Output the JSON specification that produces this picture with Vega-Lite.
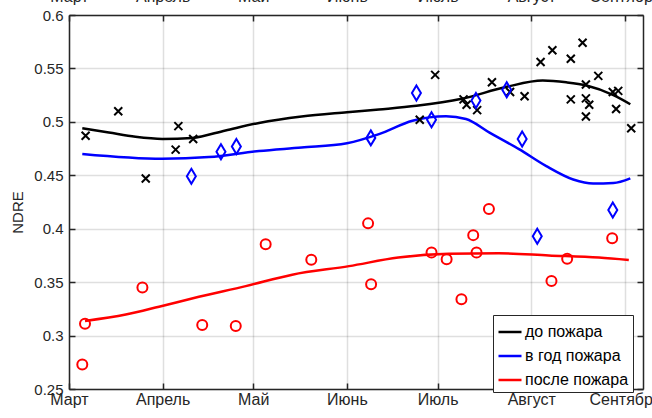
{
  "$schema": "https://vega.github.io/schema/vega-lite/v6.json",
  "autosize": {"type": "none"},
  "padding": {"left": 69, "top": 15, "right": 9, "bottom": 29},
  "width": 574,
  "height": 374,
  "background": "#ffffff",
  "view": {"stroke": null},
  "config": {
    "font": "Liberation Sans",
    "axis": {
      "labelFont": "Liberation Sans",
      "labelFontSize": 16,
      "labelColor": "#262626",
      "titleFont": "Liberation Sans",
      "titleFontSize": 15,
      "titleFontWeight": "normal",
      "titleColor": "#262626",
      "domainColor": "#262626",
      "domainWidth": 1.5,
      "tickColor": "#262626",
      "tickWidth": 1.5,
      "tickSize": -6,
      "gridColor": "#262626",
      "gridOpacity": 0.15,
      "gridWidth": 1.5,
      "labelOverlap": false,
      "labelFlush": false,
      "labelBound": false
    }
  },
  "datasets": {
    "obs": [
      {"day": 5.5, "v": 0.487, "grp": "до пожара"},
      {"day": 16.3, "v": 0.510, "grp": "до пожара"},
      {"day": 25.4, "v": 0.447, "grp": "до пожара"},
      {"day": 36.2, "v": 0.496, "grp": "до пожара"},
      {"day": 35.3, "v": 0.474, "grp": "до пожара"},
      {"day": 41.1, "v": 0.484, "grp": "до пожара"},
      {"day": 116.1, "v": 0.502, "grp": "до пожара"},
      {"day": 121.2, "v": 0.544, "grp": "до пожара"},
      {"day": 130.6, "v": 0.521, "grp": "до пожара"},
      {"day": 131.6, "v": 0.516, "grp": "до пожара"},
      {"day": 135.1, "v": 0.511, "grp": "до пожара"},
      {"day": 140.0, "v": 0.537, "grp": "до пожара"},
      {"day": 146.0, "v": 0.528, "grp": "до пожара"},
      {"day": 150.8, "v": 0.524, "grp": "до пожара"},
      {"day": 156.1, "v": 0.556, "grp": "до пожара"},
      {"day": 160.0, "v": 0.567, "grp": "до пожара"},
      {"day": 166.1, "v": 0.559, "grp": "до пожара"},
      {"day": 166.1, "v": 0.521, "grp": "до пожара"},
      {"day": 170.0, "v": 0.574, "grp": "до пожара"},
      {"day": 171.1, "v": 0.535, "grp": "до пожара"},
      {"day": 171.1, "v": 0.522, "grp": "до пожара"},
      {"day": 172.2, "v": 0.516, "grp": "до пожара"},
      {"day": 171.1, "v": 0.505, "grp": "до пожара"},
      {"day": 175.2, "v": 0.543, "grp": "до пожара"},
      {"day": 180.0, "v": 0.528, "grp": "до пожара"},
      {"day": 181.8, "v": 0.529, "grp": "до пожара"},
      {"day": 181.1, "v": 0.512, "grp": "до пожара"},
      {"day": 186.1, "v": 0.494, "grp": "до пожара"},
      {"day": 40.5, "v": 0.449, "grp": "в год пожара"},
      {"day": 50.3, "v": 0.472, "grp": "в год пожара"},
      {"day": 55.4, "v": 0.477, "grp": "в год пожара"},
      {"day": 99.9, "v": 0.485, "grp": "в год пожара"},
      {"day": 115.0, "v": 0.527, "grp": "в год пожара"},
      {"day": 120.0, "v": 0.502, "grp": "в год пожара"},
      {"day": 134.7, "v": 0.520, "grp": "в год пожара"},
      {"day": 144.9, "v": 0.530, "grp": "в год пожара"},
      {"day": 150.0, "v": 0.484, "grp": "в год пожара"},
      {"day": 155.0, "v": 0.393, "grp": "в год пожара"},
      {"day": 180.0, "v": 0.4175, "grp": "в год пожара"},
      {"day": 4.4, "v": 0.273, "grp": "после пожара"},
      {"day": 5.3, "v": 0.311, "grp": "после пожара"},
      {"day": 24.3, "v": 0.345, "grp": "после пожара"},
      {"day": 44.1, "v": 0.310, "grp": "после пожара"},
      {"day": 55.2, "v": 0.309, "grp": "после пожара"},
      {"day": 65.1, "v": 0.3855, "grp": "после пожара"},
      {"day": 80.2, "v": 0.371, "grp": "после пожара"},
      {"day": 99.0, "v": 0.405, "grp": "после пожара"},
      {"day": 100.0, "v": 0.348, "grp": "после пожара"},
      {"day": 120.0, "v": 0.3777, "grp": "после пожара"},
      {"day": 125.0, "v": 0.3714, "grp": "после пожара"},
      {"day": 129.9, "v": 0.334, "grp": "после пожара"},
      {"day": 133.8, "v": 0.394, "grp": "после пожара"},
      {"day": 134.9, "v": 0.3777, "grp": "после пожара"},
      {"day": 139.0, "v": 0.4184, "grp": "после пожара"},
      {"day": 159.7, "v": 0.351, "grp": "после пожара"},
      {"day": 164.9, "v": 0.372, "grp": "после пожара"},
      {"day": 179.8, "v": 0.391, "grp": "после пожара"}
    ],
    "fit": [
      {"day": 4.4, "v": 0.494, "grp": "до пожара"},
      {"day": 13.2, "v": 0.490, "grp": "до пожара"},
      {"day": 22, "v": 0.486, "grp": "до пожара"},
      {"day": 30.9, "v": 0.484, "grp": "до пожара"},
      {"day": 40.8, "v": 0.485, "grp": "до пожара"},
      {"day": 51.8, "v": 0.492, "grp": "до пожара"},
      {"day": 62.9, "v": 0.499, "grp": "до пожара"},
      {"day": 77, "v": 0.505, "grp": "до пожара"},
      {"day": 92, "v": 0.509, "grp": "до пожара"},
      {"day": 102.6, "v": 0.5116, "grp": "до пожара"},
      {"day": 115, "v": 0.515, "grp": "до пожара"},
      {"day": 130, "v": 0.5216, "grp": "до пожара"},
      {"day": 144.6, "v": 0.5326, "grp": "до пожара"},
      {"day": 156.8, "v": 0.5386, "grp": "до пожара"},
      {"day": 164.6, "v": 0.537, "grp": "до пожара"},
      {"day": 171.3, "v": 0.534, "grp": "до пожара"},
      {"day": 180.2, "v": 0.525, "grp": "до пожара"},
      {"day": 185.8, "v": 0.5165, "grp": "до пожара"},
      {"day": 4.4, "v": 0.470, "grp": "в год пожара"},
      {"day": 30.9, "v": 0.4655, "grp": "в год пожара"},
      {"day": 46.3, "v": 0.467, "grp": "в год пожара"},
      {"day": 62.9, "v": 0.4727, "grp": "в год пожара"},
      {"day": 77, "v": 0.476, "grp": "в год пожара"},
      {"day": 92, "v": 0.480, "grp": "в год пожара"},
      {"day": 102.6, "v": 0.4885, "grp": "в год пожара"},
      {"day": 113.7, "v": 0.501, "grp": "в год пожара"},
      {"day": 124.8, "v": 0.5052, "grp": "в год пожара"},
      {"day": 131.4, "v": 0.5027, "grp": "в год пожара"},
      {"day": 139.2, "v": 0.490, "grp": "в год пожара"},
      {"day": 149.1, "v": 0.4742, "grp": "в год пожара"},
      {"day": 158, "v": 0.4585, "grp": "в год пожара"},
      {"day": 166.9, "v": 0.446, "grp": "в год пожара"},
      {"day": 173.5, "v": 0.4422, "grp": "в год пожара"},
      {"day": 180.2, "v": 0.4427, "grp": "в год пожара"},
      {"day": 185.8, "v": 0.4471, "grp": "в год пожара"},
      {"day": 5.3, "v": 0.3137, "grp": "после пожара"},
      {"day": 18.8, "v": 0.3197, "grp": "после пожара"},
      {"day": 29.8, "v": 0.327, "grp": "после пожара"},
      {"day": 43, "v": 0.3363, "grp": "после пожара"},
      {"day": 58.5, "v": 0.3463, "grp": "после пожара"},
      {"day": 73.9, "v": 0.357, "grp": "после пожара"},
      {"day": 92.7, "v": 0.365, "grp": "после пожара"},
      {"day": 109, "v": 0.373, "grp": "после пожара"},
      {"day": 125.7, "v": 0.3765, "grp": "после пожара"},
      {"day": 142.3, "v": 0.377, "grp": "после пожара"},
      {"day": 158.8, "v": 0.375, "grp": "после пожара"},
      {"day": 175.4, "v": 0.373, "grp": "после пожара"},
      {"day": 185.3, "v": 0.3707, "grp": "после пожара"}
    ]
  },
  "resolve": {"axis": {"x": "independent", "y": "independent"}},
  "layer": [
    {
      "data": {"name": "fit"},
      "mark": {"type": "line", "strokeWidth": 2.5, "interpolate": "monotone"},
      "encoding": {
        "x": {
          "field": "day", "type": "quantitative",
          "scale": {"domain": [0, 190], "nice": false, "zero": false},
          "axis": {
            "orient": "bottom", "title": null, "grid": true,
            "values": [0, 31, 61, 92, 122, 153, 184],
            "labelPadding": 8,
            "labelExpr": "datum.value == 0 ? 'Март' : datum.value == 31 ? 'Апрель' : datum.value == 61 ? 'Май' : datum.value == 92 ? 'Июнь' : datum.value == 122 ? 'Июль' : datum.value == 153 ? 'Август' : 'Сентябрь'"
          }
        },
        "y": {
          "field": "v", "type": "quantitative",
          "scale": {"domain": [0.25, 0.6], "nice": false, "zero": false},
          "axis": {
            "orient": "left", "title": "NDRE", "grid": true,
            "values": [0.25, 0.3, 0.35, 0.4, 0.45, 0.5, 0.55, 0.6],
            "format": ".2~f",
            "labelFontSize": 15,
            "labelPadding": 12,
            "titlePadding": 8,
            "titleY": 197
          }
        },
        "color": {
          "field": "grp", "type": "nominal",
          "scale": {"domain": ["до пожара", "в год пожара", "после пожара"], "range": ["#000000", "#0000ff", "#ff0000"]},
          "legend": {
            "title": null,
            "orient": "none",
            "legendX": 424,
            "legendY": 300,
            "symbolType": "stroke",
            "symbolSize": 529,
            "symbolStrokeWidth": 2.5,
            "labelFont": "Liberation Sans",
            "labelFontSize": 16,
            "labelColor": "#000000",
            "labelOffset": 2,
            "padding": 4,
            "rowPadding": 3,
            "strokeColor": "#262626",
            "fillColor": "#ffffff"
          }
        },
        "detail": {"field": "grp"}
      }
    },
    {
      "data": {"name": "fit"},
      "mark": {"type": "line", "opacity": 0},
      "encoding": {
        "x": {
          "field": "day", "type": "quantitative",
          "axis": {
            "orient": "top", "title": null, "grid": false,
            "values": [0, 31, 61, 92, 122, 153, 184],
            "labelPadding": 17,
            "labelExpr": "datum.value == 0 ? 'Март' : datum.value == 31 ? 'Апрель' : datum.value == 61 ? 'Май' : datum.value == 92 ? 'Июнь' : datum.value == 122 ? 'Июль' : datum.value == 153 ? 'Август' : 'Сентябрь'"
          }
        },
        "y": {
          "field": "v", "type": "quantitative",
          "axis": {
            "orient": "right", "title": null, "grid": false, "labels": false,
            "values": [0.25, 0.3, 0.35, 0.4, 0.45, 0.5, 0.55, 0.6]
          }
        },
        "detail": {"field": "grp"}
      }
    },
    {
      "data": {"name": "obs"},
      "transform": [{"filter": "datum.grp == 'до пожара'"}],
      "mark": {"type": "point", "shape": "M-1,-1L1,1M-1,1L1,-1", "filled": false, "color": "#000000", "strokeWidth": 2, "size": 64, "opacity": 1},
      "encoding": {
        "x": {"field": "day", "type": "quantitative", "axis": null},
        "y": {"field": "v", "type": "quantitative", "axis": null}
      }
    },
    {
      "data": {"name": "obs"},
      "transform": [{"filter": "datum.grp == 'в год пожара'"}],
      "mark": {"type": "point", "shape": "M0,-1L0.6,0L0,1L-0.6,0Z", "filled": false, "color": "#0000ff", "strokeWidth": 2, "size": 225, "opacity": 1},
      "encoding": {
        "x": {"field": "day", "type": "quantitative", "axis": null},
        "y": {"field": "v", "type": "quantitative", "axis": null}
      }
    },
    {
      "data": {"name": "obs"},
      "transform": [{"filter": "datum.grp == 'после пожара'"}],
      "mark": {"type": "point", "shape": "circle", "filled": false, "color": "#ff0000", "strokeWidth": 2, "size": 100, "opacity": 1},
      "encoding": {
        "x": {"field": "day", "type": "quantitative", "axis": null},
        "y": {"field": "v", "type": "quantitative", "axis": null}
      }
    }
  ]
}
